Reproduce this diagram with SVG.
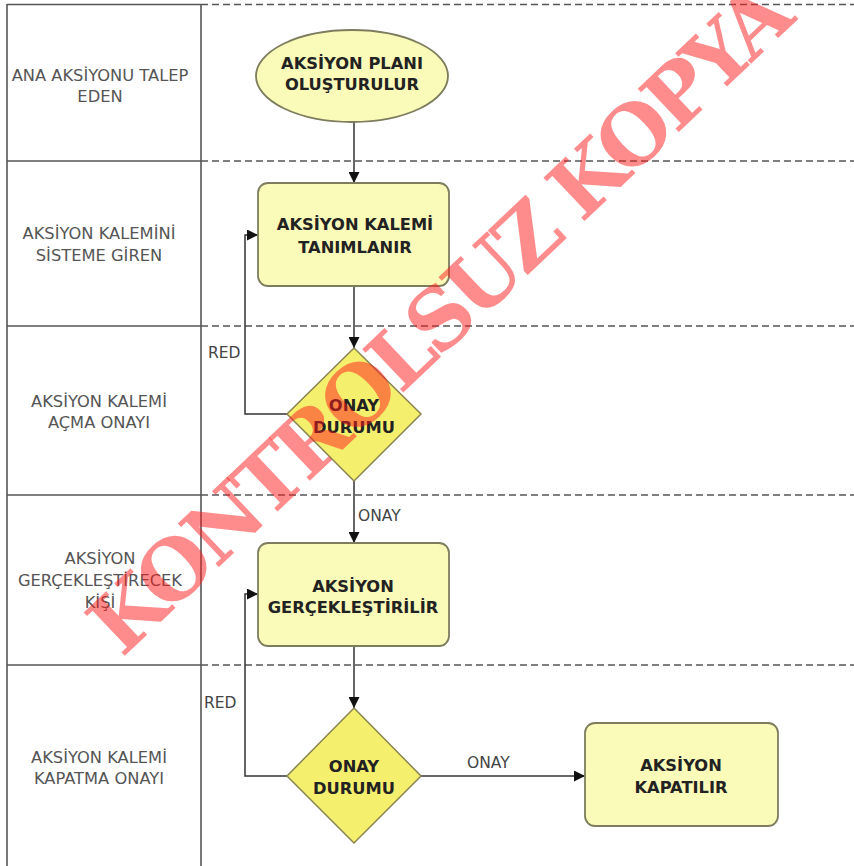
<svg xmlns="http://www.w3.org/2000/svg" width="854" height="866" viewBox="0 0 854 866">
<style>
.solid{stroke:#555;stroke-width:1.6;fill:none}
.dash{stroke:#555;stroke-width:1.6;fill:none;stroke-dasharray:7 4}
.lane{font-family:"DejaVu Sans",Verdana,sans-serif;font-size:16.3px;fill:#555;text-anchor:middle;dominant-baseline:central}
.node{font-family:"DejaVu Sans",Verdana,sans-serif;font-size:16.3px;font-weight:bold;fill:#222;text-anchor:middle;dominant-baseline:central}
.lbl{font-family:"DejaVu Sans",Verdana,sans-serif;font-size:15.5px;fill:#444;dominant-baseline:central}
.soft{fill:#fafab9;stroke:#7d7d5e;stroke-width:1.8}
.dec{fill:#f5ef6e;stroke:#8a8550;stroke-width:1.5}
.conn{stroke:#333;stroke-width:1.5;fill:none}
</style>
<defs>
<marker id="arr" viewBox="0 0 10 10" refX="10" refY="5" markerWidth="11" markerHeight="11" markerUnits="userSpaceOnUse" orient="auto">
<path d="M0,0 L10,5 L0,10 Z" fill="#111"/>
</marker>
</defs>
<rect width="854" height="866" fill="#fff"/>
<g id="lanes">
<line class="solid" x1="7" y1="4" x2="7" y2="866"/>
<line class="solid" x1="201" y1="4" x2="201" y2="866"/>
<line class="solid" x1="7" y1="4.5" x2="201" y2="4.5"/>
<line class="solid" x1="7" y1="161" x2="201" y2="161"/>
<line class="solid" x1="7" y1="326" x2="201" y2="326"/>
<line class="solid" x1="7" y1="495" x2="201" y2="495"/>
<line class="solid" x1="7" y1="665" x2="201" y2="665"/>
<line class="dash" x1="201" y1="4.5" x2="854" y2="4.5"/>
<line class="dash" x1="201" y1="161" x2="854" y2="161"/>
<line class="dash" x1="201" y1="326" x2="854" y2="326"/>
<line class="dash" x1="201" y1="495" x2="854" y2="495"/>
<line class="dash" x1="201" y1="665" x2="854" y2="665"/>
<text class="lane" x="100" y="75">ANA AKSİYONU TALEP</text>
<text class="lane" x="100" y="96">EDEN</text>
<text class="lane" x="99" y="233">AKSİYON KALEMİNİ</text>
<text class="lane" x="99" y="255">SİSTEME GİREN</text>
<text class="lane" x="99" y="401">AKSİYON KALEMİ</text>
<text class="lane" x="99" y="422">AÇMA ONAYI</text>
<text class="lane" x="100" y="558">AKSİYON</text>
<text class="lane" x="100" y="580">GERÇEKLEŞTİRECEK</text>
<text class="lane" x="100" y="602">KİŞİ</text>
<text class="lane" x="99" y="757">AKSİYON KALEMİ</text>
<text class="lane" x="99" y="778">KAPATMA ONAYI</text>
</g>
<g id="connectors">
<line class="conn" x1="354" y1="122" x2="354" y2="183" marker-end="url(#arr)"/>
<line class="conn" x1="354" y1="286" x2="354" y2="348" marker-end="url(#arr)"/>
<polyline class="conn" points="287,414 245,414 245,235 258,235" marker-end="url(#arr)"/>
<text class="lbl" x="208" y="353">RED</text>
<line class="conn" x1="354" y1="481" x2="354" y2="543" marker-end="url(#arr)"/>
<text class="lbl" x="358" y="516">ONAY</text>
<polyline class="conn" points="287,776 245,776 245,594 258,594" marker-end="url(#arr)"/>
<text class="lbl" x="204" y="703">RED</text>
<line class="conn" x1="354" y1="646" x2="354" y2="708" marker-end="url(#arr)"/>
<line class="conn" x1="421" y1="776" x2="585" y2="776" marker-end="url(#arr)"/>
<text class="lbl" x="467" y="763">ONAY</text>
</g>
<g id="start">
<ellipse class="soft" cx="352" cy="76" rx="96" ry="46"/>
<text class="node" x="352" y="63">AKSİYON PLANI</text>
<text class="node" x="352" y="84">OLUŞTURULUR</text>
</g>
<g id="define">
<rect class="soft" x="258" y="183" width="191" height="103" rx="10"/>
<text class="node" x="355" y="224">AKSİYON KALEMİ</text>
<text class="node" x="355" y="247">TANIMLANIR</text>
</g>
<g id="decision1">
<polygon class="dec" points="354,348 421,414 354,481 287,414"/>
<text class="node" x="354" y="405">ONAY</text>
<text class="node" x="354" y="427">DURUMU</text>
</g>
<g id="perform">
<rect class="soft" x="258" y="543" width="191" height="103" rx="10"/>
<text class="node" x="353" y="586">AKSİYON</text>
<text class="node" x="353" y="607">GERÇEKLEŞTİRİLİR</text>
</g>
<g id="decision2">
<polygon class="dec" points="354,708 421,776 354,843 287,776"/>
<text class="node" x="354" y="766">ONAY</text>
<text class="node" x="354" y="788">DURUMU</text>
</g>
<g id="close">
<rect class="soft" x="585" y="723" width="193" height="103" rx="10"/>
<text class="node" x="681" y="765">AKSİYON</text>
<text class="node" x="681" y="787">KAPATILIR</text>
</g>
<g id="watermark">
<text x="440" y="318" transform="rotate(-43.4 440 318)" font-family="'DejaVu Serif','Liberation Serif',serif" font-weight="bold" font-size="82" textLength="930" lengthAdjust="spacing" fill="#ff1a1a" fill-opacity="0.5" text-anchor="middle" dominant-baseline="central">KONTROLSUZ KOPYA</text>
</g>
</svg>
